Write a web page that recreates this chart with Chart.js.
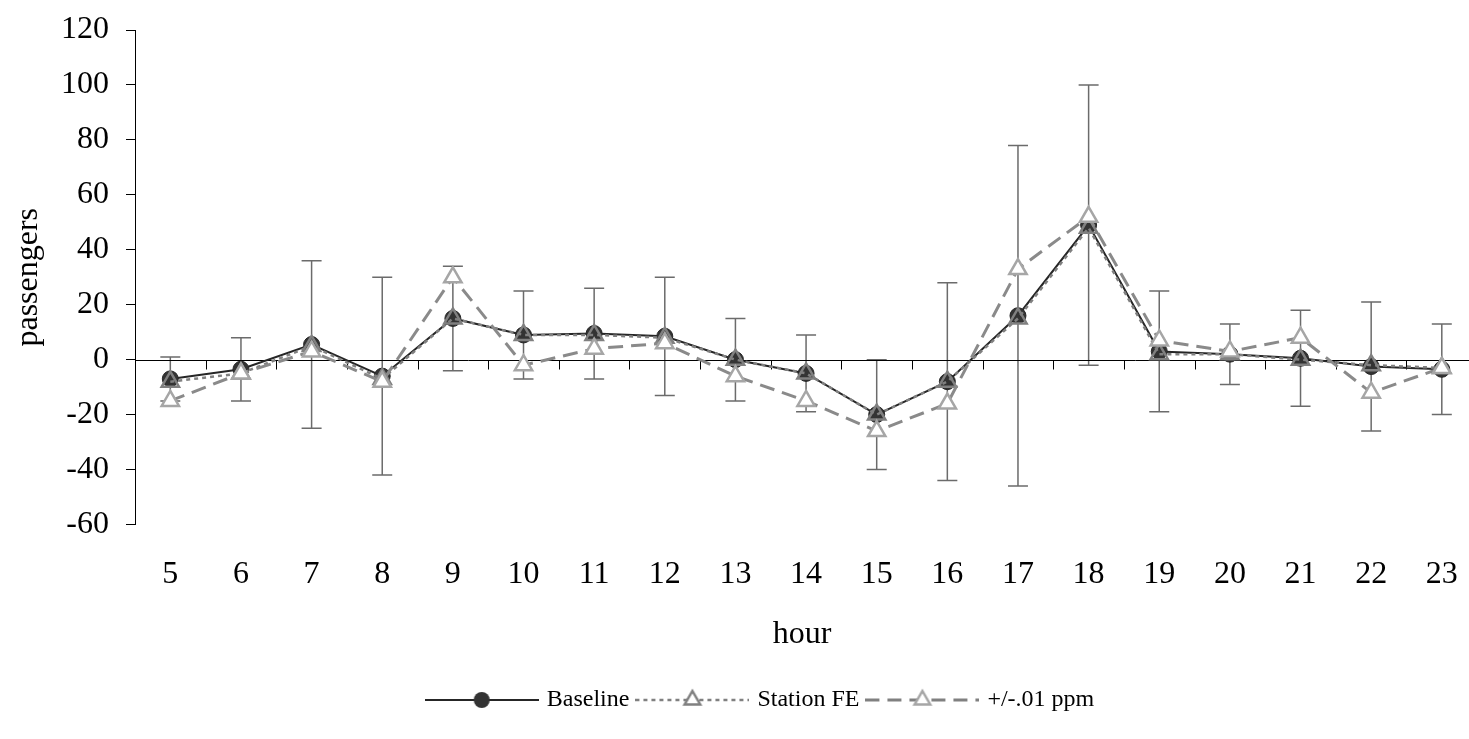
<!DOCTYPE html>
<html>
<head>
<meta charset="utf-8">
<script src="https://cdn.jsdelivr.net/npm/chart.js@4.4.0/dist/chart.umd.min.js"></script>
<style>
  html, body { margin: 0; padding: 0; background: #fff; }
  #wrap { width: 1469px; height: 739px; }
</style>
</head>
<body>
<div id="wrap"><canvas id="chart"></canvas></div>
<script>
// hourly passenger differences

var hours = [5, 6, 7, 8, 9, 10, 11, 12, 13, 14, 15, 16, 17, 18, 19, 20, 21, 22, 23];
var baseline = [-7, -3.5, 5.5, -6, 15, 9, 9.5, 8.5, 0, -5, -20, -8, 16, 49, 3, 2, 0.5, -2.5, -3.5];
var stationFE = [-8, -5, 5, -7, 15, 9, 9, 8, 0, -5, -20, -8, 15, 48, 2, 2, 0, -2, -3];
var ppm = [-15, -5, 3, -8, 30, -2, 4, 6, -6, -15, -26, -16, 33, 52, 7, 3, 8, -12, -3];
var errHigh = [1, 8, 36, 30, 34, 25, 26, 30, 15, 9, 0, 28, 78, 100, 25, 13, 18, 21, 13];
var errLow = [-15, -15, -25, -42, -4, -7, -7, -13, -15, -19, -40, -44, -46, -2, -19, -9, -17, -26, -20];
var yTicks = [-60, -40, -20, 0, 20, 40, 60, 80, 100, 120];

var serif = '"Liberation Serif", "Times New Roman", serif';

function toPoints(values) {
    return hours.map(function (h, i) {
        return { x: h, y: values[i] };
    });
}

// line segment with a marker in the middle, used as legend symbol
function makeIcon(kind) {
    var c = document.createElement('canvas');
    c.width = 114;
    c.height = 24;
    var g = c.getContext('2d');
    var mid = 12, cx = 57;
    g.lineWidth = kind === 'base' ? 2 : (kind === 'fe' ? 2.5 : 3);
    g.strokeStyle = kind === 'base' ? '#262626' : '#808080';
    g.setLineDash(kind === 'base' ? [] : (kind === 'fe' ? [4, 4] : [14, 8]));
    g.beginPath();
    g.moveTo(0, mid);
    g.lineTo(114, mid);
    g.stroke();
    g.setLineDash([]);
    if (kind === 'base') {
        g.fillStyle = '#333';
        g.beginPath();
        g.arc(cx, mid, 8, 0, Math.PI * 2);
        g.fill();
    } else {
        var r = 9;
        g.beginPath();
        g.moveTo(cx, mid - r);
        g.lineTo(cx + r * 0.866, mid + r * 0.5);
        g.lineTo(cx - r * 0.866, mid + r * 0.5);
        g.closePath();
        g.fillStyle = '#fff';
        g.fill();
        g.lineWidth = 2.5;
        g.strokeStyle = kind === 'fe' ? '#808080' : '#a6a6a6';
        g.stroke();
    }
    return c;
}

var icons = [makeIcon('base'), makeIcon('fe'), makeIcon('ppm')];

var errorBars = {
    id: 'errorBars',
    beforeDatasetsDraw: function (chart) {
        var ctx = chart.ctx;
        var x = chart.scales.x;
        var y = chart.scales.y;
        ctx.save();
        ctx.strokeStyle = '#6b6b6b';
        ctx.lineWidth = 1.5;
        for (var i = 0; i < hours.length; i++) {
            var px = x.getPixelForValue(hours[i]);
            var top = y.getPixelForValue(errHigh[i]);
            var bot = y.getPixelForValue(errLow[i]);
            ctx.beginPath();
            ctx.moveTo(px, top);
            ctx.lineTo(px, bot);
            ctx.moveTo(px - 10, top);
            ctx.lineTo(px + 10, top);
            ctx.moveTo(px - 10, bot);
            ctx.lineTo(px + 10, bot);
            ctx.stroke();
        }
        ctx.restore();
    }
};

// horizontal axis line drawn at zero with tick marks between the hours
var zeroAxis = {
    id: 'zeroAxis',
    beforeDatasetsDraw: function (chart) {
        var ctx = chart.ctx;
        var x = chart.scales.x;
        var y0 = Math.round(chart.scales.y.getPixelForValue(0)) + 0.5;
        ctx.save();
        ctx.strokeStyle = '#000';
        ctx.lineWidth = 1;
        ctx.beginPath();
        ctx.moveTo(chart.chartArea.left, y0);
        ctx.lineTo(chart.width, y0);
        for (var i = 0; i < hours.length; i++) {
            var bx = Math.round(x.getPixelForValue(hours[i] + 0.5)) + 0.5;
            ctx.moveTo(bx, y0);
            ctx.lineTo(bx, y0 + 9);
        }
        ctx.stroke();
        ctx.restore();
    }
};

var legendShift = {
    id: 'legendShift',
    afterLayout: function (chart) {
        chart.legend.left += 27;
        chart.legend.right += 27;
    }
};

new Chart(document.getElementById('chart'), {
    type: 'line',
    data: {
        datasets: [
            {
                label: 'Baseline',
                data: toPoints(baseline),
                borderColor: '#262626',
                borderWidth: 2,
                pointStyle: 'circle',
                pointRadius: 8,
                pointBackgroundColor: '#333',
                pointBorderColor: '#262626',
                pointBorderWidth: 1,
                order: 3
            },
            {
                label: 'Station FE',
                data: toPoints(stationFE),
                borderColor: '#808080',
                borderWidth: 2.5,
                borderDash: [4, 4],
                pointStyle: 'triangle',
                pointRadius: 10,
                pointBackgroundColor: 'rgba(0,0,0,0)',
                pointBorderColor: '#808080',
                pointBorderWidth: 2.5,
                order: 2
            },
            {
                label: '+/-.01 ppm',
                data: toPoints(ppm),
                borderColor: '#8a8a8a',
                borderWidth: 3,
                borderDash: [15, 8],
                pointStyle: 'triangle',
                pointRadius: 10,
                pointBackgroundColor: '#fff',
                pointBorderColor: '#a6a6a6',
                pointBorderWidth: 2.5,
                order: 1
            }
        ]
    },
    options: {
        responsive: true,
        maintainAspectRatio: false,
        animation: false,
        layout: { autoPadding: false, padding: { top: 30, right: 0, bottom: 17, left: 0 } },
        scales: {
            x: {
                type: 'linear',
                min: 4.5,
                max: 23.385,
                afterBuildTicks: function (s) { s.ticks = hours.map(function (h) { return { value: h }; }); },
                grid: { display: false, drawTicks: false },
                border: { display: false },
                ticks: { font: { family: serif, size: 32 }, color: '#000', padding: 31, maxRotation: 0, autoSkip: false },
                title: { display: true, text: 'hour', font: { family: serif, size: 32 }, color: '#000', padding: { top: 0, bottom: 24 } },
                afterFit: function (s) {
                    s.height = 153.5;
                    s.paddingLeft = 0;
                    s.paddingRight = 0;
                }
            },
            y: {
                min: -60,
                max: 120,
                afterBuildTicks: function (s) { s.ticks = yTicks.map(function (v) { return { value: v }; }); },
                grid: { drawOnChartArea: false, drawTicks: true, tickLength: 9, color: '#000', lineWidth: 1 },
                border: { display: true, color: '#000', width: 1 },
                ticks: { font: { family: serif, size: 32 }, color: '#000', padding: 17 },
                title: { display: true, text: 'passengers', font: { family: serif, size: 32 }, color: '#000', padding: { top: 9, bottom: 0 } },
                afterFit: function (s) {
                    s.width = 135;
                    s.paddingTop = 0;
                    s.paddingBottom = 0;
                }
            }
        },
        plugins: {
            tooltip: { enabled: false },
            legend: {
                position: 'bottom',
                labels: {
                    font: { family: serif, size: 24 },
                    color: '#000',
                    usePointStyle: true,
                    pointStyleWidth: 106,
                    padding: 10,
                    generateLabels: function (chart) {
                        return chart.data.datasets.map(function (ds, i) {
                            return {
                                text: ds.label,
                                pointStyle: icons[i],
                                fillStyle: 'rgba(0,0,0,0)',
                                strokeStyle: 'rgba(0,0,0,0)',
                                lineWidth: 0,
                                hidden: false,
                                datasetIndex: i,
                                fontColor: '#000'
                            };
                        });
                    }
                }
            }
        }
    },
    plugins: [errorBars, zeroAxis, legendShift]
});
</script>
</body>
</html>
